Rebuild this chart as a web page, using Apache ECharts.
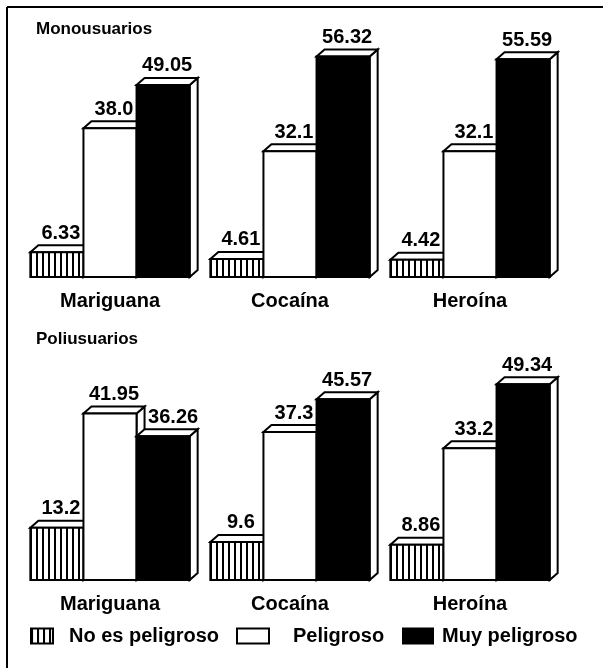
<!DOCTYPE html>
<html>
<head>
<meta charset="utf-8">
<script src="https://cdn.jsdelivr.net/npm/echarts@6/dist/echarts.min.js"></script>
<style>
  html, body { margin: 0; padding: 0; background: #fff; }
  #chart { width: 603px; height: 668px; }
</style>
</head>
<body>
<div id="chart"></div>
<script>
// Categories and values for both panels
const categories = ['Mariguana', 'Cocaína', 'Heroína'];
const seriesNames = ['No es peligroso', 'Peligroso', 'Muy peligroso'];

const monoNoPeligroso = [6.33, 4.61, 4.42];
const monoPeligroso = [38.0, 32.1, 32.1];
const monoMuyPeligroso = [49.05, 56.32, 55.59];

const poliNoPeligroso = [13.2, 9.6, 8.86];
const poliPeligroso = [41.95, 37.3, 33.2];
const poliMuyPeligroso = [36.26, 45.57, 49.34];

const panelTitles = ['Monousuarios', 'Poliusuarios'];

// Label text as printed (whole numbers keep one decimal)
function fmt(v) {
  const s = String(v);
  return s.indexOf('.') < 0 ? v.toFixed(1) : s;
}

// Vertical hatch fill
const hatch = document.createElement('canvas');
hatch.width = 6; hatch.height = 6;
(function () {
  const c = hatch.getContext('2d');
  c.fillStyle = '#fff'; c.fillRect(0, 0, 6, 6);
  c.fillStyle = '#000'; c.fillRect(0, 0, 2, 6);
})();
const hatchFill = { image: hatch, repeat: 'repeat' };

const fills = [hatchFill, '#ffffff', '#000000'];
const DX = 8, DY = 7;
const FONT = '"Liberation Sans", Arial, sans-serif';

// prevVals: values of the bar just to the left (same category), used to
// nudge a label clear of a taller neighbour's side face
function makeRender(slot, vals, prevVals) {
  const labels = vals.map(fmt);
  return function (params, api) {
    const cat = api.value(0);
    const val = api.value(1);
    const top = api.coord([cat, val]);
    const base = api.coord([cat, 0]);
    const band = api.size([1, 0])[0];
    const w = band * 0.295;
    const x0 = top[0] - 1.5 * w + slot * w;
    const yT = top[1], yB = base[1];
    const nudge = prevVals && prevVals[params.dataIndex] > val ? 6 : 0;
    const stroke = { stroke: '#000', lineWidth: 2, lineJoin: 'miter' };
    return {
      type: 'group',
      children: [
        { type: 'polygon', shape: { points: [[x0 + w, yT], [x0 + w + DX, yT - DY], [x0 + w + DX, yB - DY], [x0 + w, yB]] },
          style: Object.assign({ fill: '#fff' }, stroke) },
        { type: 'polygon', shape: { points: [[x0, yT], [x0 + DX, yT - DY], [x0 + w + DX, yT - DY], [x0 + w, yT]] },
          style: Object.assign({ fill: '#fff' }, stroke) },
        { type: 'rect', shape: { x: x0, y: yT, width: w, height: yB - yT },
          style: Object.assign({ fill: fills[slot] }, stroke) },
        { type: 'text', x: x0 + (w + DX) / 2 + nudge, y: yT - DY - 2,
          style: { text: labels[params.dataIndex], fill: '#000', font: 'bold 20px ' + FONT,
                   align: 'center', verticalAlign: 'bottom' } }
      ]
    };
  };
}

const panels = [
  [monoNoPeligroso, monoPeligroso, monoMuyPeligroso],
  [poliNoPeligroso, poliPeligroso, poliMuyPeligroso]
];

const series = [];
panels.forEach(function (panel, p) {
  panel.forEach(function (vals, s) {
    series.push({
      type: 'custom',
      name: seriesNames[s],
      xAxisIndex: p,
      yAxisIndex: p,
      itemStyle: { color: fills[s] },
      renderItem: makeRender(s, vals, s > 0 ? panel[s - 1] : null),
      data: vals.map(function (v, i) { return [i, v]; })
    });
  });
});

const grids = [
  { left: 20, width: 540, top: 42, height: 235 },
  { left: 20, width: 540, top: 342, height: 238 }
];

// Legend entries laid out one by one along the bottom row
const legendLayout = [
  { left: 30, iconW: 22, textPad: 11 },
  { left: 236, iconW: 32, textPad: 19 },
  { left: 402, iconW: 30, textPad: 4 }
];

const option = {
  animation: false,
  backgroundColor: '#fff',
  textStyle: { fontFamily: FONT },
  grid: grids,
  xAxis: grids.map(function (g, i) {
    return {
      type: 'category', gridIndex: i, data: categories,
      axisLine: { show: false }, axisTick: { show: false },
      axisLabel: { color: '#000', fontSize: 20, fontWeight: 'bold', margin: 14, fontFamily: FONT }
    };
  }),
  yAxis: grids.map(function (g, i) {
    return { type: 'value', gridIndex: i, min: 0, max: 60, show: false, splitLine: { show: false } };
  }),
  legend: seriesNames.map(function (n, i) {
    const L = legendLayout[i];
    return {
      left: L.left, top: 626, padding: 0,
      itemWidth: L.iconW, itemHeight: 15,
      selectedMode: false,
      textStyle: { color: '#000', fontSize: 20, fontWeight: 'bold', fontFamily: FONT, padding: [0, 0, 0, L.textPad] },
      data: [{ name: n, icon: 'rect', itemStyle: { color: fills[i], borderColor: '#000', borderWidth: 2 } }]
    };
  }),
  graphic: [
    { type: 'line', shape: { x1: 7, y1: 7, x2: 603, y2: 7 }, style: { stroke: '#000', lineWidth: 2 } },
    { type: 'line', shape: { x1: 7, y1: 7, x2: 7, y2: 668 }, style: { stroke: '#000', lineWidth: 2 } },
    { type: 'text', left: 36, top: 21, style: { text: panelTitles[0], font: 'bold 17px ' + FONT, fill: '#000' } },
    { type: 'text', left: 36, top: 331, style: { text: panelTitles[1], font: 'bold 17px ' + FONT, fill: '#000' } }
  ],
  series: series
};

const chart = echarts.init(document.getElementById('chart'), null, { renderer: 'canvas' });
chart.setOption(option);
</script>
</body>
</html>
